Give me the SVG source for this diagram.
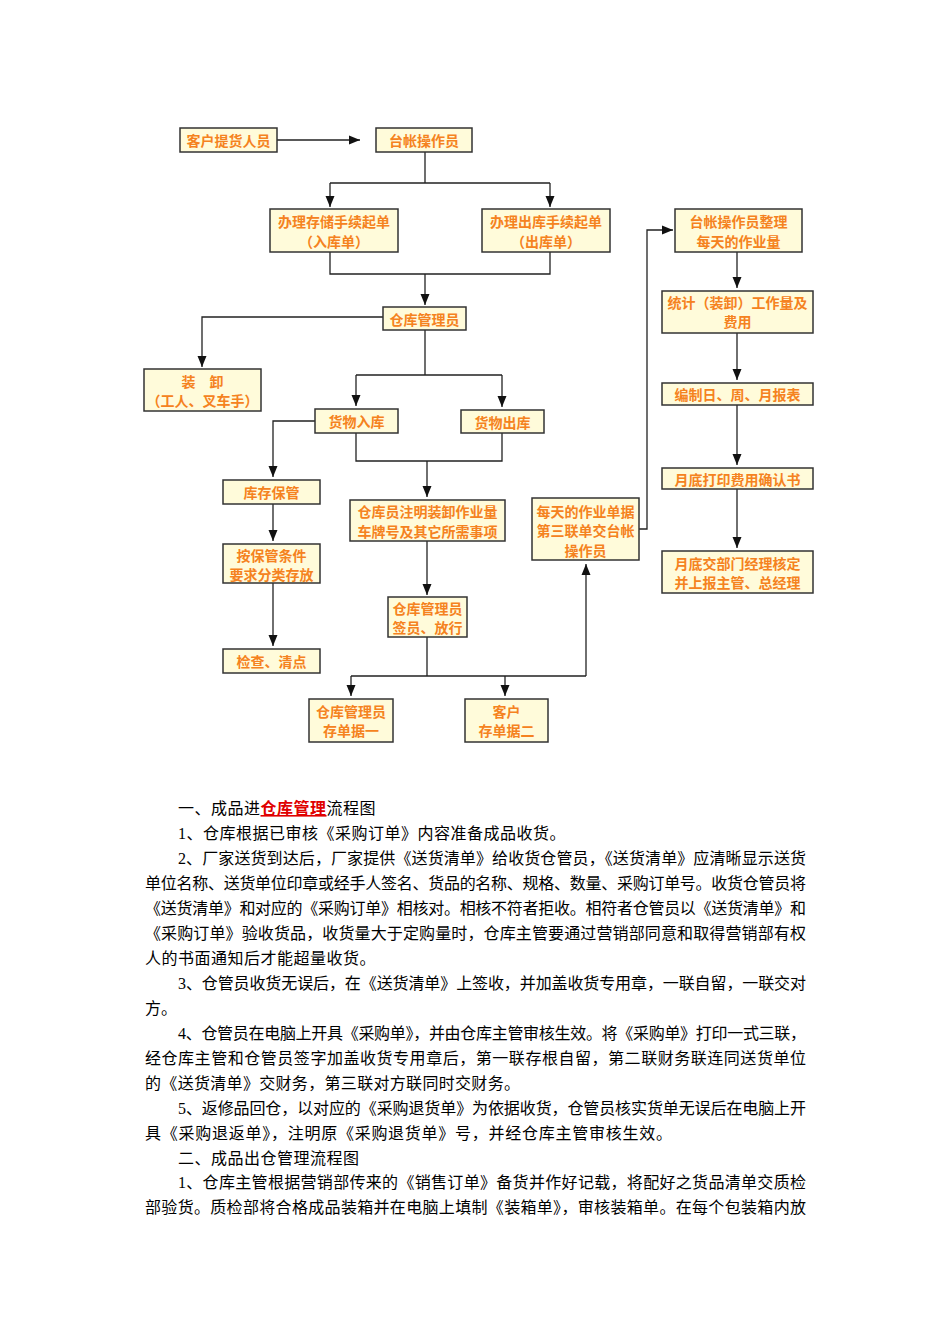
<svg xmlns="http://www.w3.org/2000/svg" width="950" height="1344" viewBox="0 0 950 1344">
<defs>
<style>
.bx{fill:#FFFBDA;stroke:#333;stroke-width:1.5}
.nt{font-family:"Noto Sans CJK SC","Noto Sans",sans-serif;font-size:14px;font-weight:bold;fill:#F58220;text-anchor:middle;dominant-baseline:central}
.ln{fill:none;stroke:#222;stroke-width:1.3}
.ar{fill:none;stroke:#222;stroke-width:1.3;marker-end:url(#ah)}
.bd{font-family:"Liberation Serif","Noto Sans CJK SC",serif;font-size:16px;fill:#000}
.ls{letter-spacing:0.5px}
</style>
<marker id="ah" markerUnits="userSpaceOnUse" markerWidth="12" markerHeight="12" viewBox="0 0 12 12" refX="11" refY="6" orient="auto">
<path d="M0,1.5 L11,6 L0,10.5 Z" fill="#111"/>
</marker>
</defs>
<rect width="950" height="1344" fill="#fff"/>

<g id="connectors">
<path class="ar" d="M277,140 H360"/>
<path class="ln" d="M425,152 V183 M330,183 H550"/>
<path class="ar" d="M330,183 V207"/>
<path class="ar" d="M550,183 V207"/>
<path class="ln" d="M330,252 V274 H550 V252"/>
<path class="ar" d="M425,274 V305"/>
<path class="ar" d="M383,317 H202 V367"/>
<path class="ln" d="M425,330 V375 M356,375 H502"/>
<path class="ar" d="M356,375 V406"/>
<path class="ar" d="M502,375 V407"/>
<path class="ar" d="M315,421 H273 V477"/>
<path class="ln" d="M356,433 V461 H502 V433"/>
<path class="ar" d="M427,461 V497"/>
<path class="ar" d="M273,504 V541"/>
<path class="ar" d="M273,583 V646"/>
<path class="ar" d="M427,541 V595"/>
<path class="ln" d="M427,637 V676 M351,676 H586"/>
<path class="ar" d="M351,676 V696"/>
<path class="ar" d="M505,676 V696"/>
<path class="ar" d="M586,676 V564"/>
<path class="ar" d="M639,529 H647 V230 H673"/>
<path class="ar" d="M737,252 V288"/>
<path class="ar" d="M737,333 V380"/>
<path class="ar" d="M737,405 V465"/>
<path class="ar" d="M737,489 V548"/>
</g>

<g id="n1"><rect class="bx" x="180" y="128" width="97" height="24"/><text class="nt" x="228.5" y="140">客户提货人员</text></g>
<g id="n2"><rect class="bx" x="376" y="128" width="96" height="24"/><text class="nt" x="424" y="140">台帐操作员</text></g>
<g id="n3"><rect class="bx" x="270" y="209" width="128" height="43"/><text class="nt" x="334" y="221">办理存储手续起单</text><text class="nt" x="334" y="241">（入库单）</text></g>
<g id="n4"><rect class="bx" x="482" y="209" width="128" height="43"/><text class="nt" x="546" y="221">办理出库手续起单</text><text class="nt" x="546" y="241">（出库单）</text></g>
<g id="n5"><rect class="bx" x="383" y="307" width="83" height="23"/><text class="nt" x="424.5" y="318.5">仓库管理员</text></g>
<g id="n6"><rect class="bx" x="144" y="369" width="117" height="42"/><text class="nt" x="202.5" y="381">装　卸</text><text class="nt" x="202.5" y="400">（工人、叉车手）</text></g>
<g id="n7"><rect class="bx" x="315" y="409" width="83" height="24"/><text class="nt" x="356.5" y="421">货物入库</text></g>
<g id="n8"><rect class="bx" x="461" y="410" width="83" height="23"/><text class="nt" x="502.5" y="421.5">货物出库</text></g>
<g id="n9"><rect class="bx" x="223" y="480" width="97" height="24"/><text class="nt" x="271.5" y="492">库存保管</text></g>
<g id="n10"><rect class="bx" x="223" y="544" width="97" height="39"/><text class="nt" x="271.5" y="554.5">按保管条件</text><text class="nt" x="271.5" y="573.5">要求分类存放</text></g>
<g id="n11"><rect class="bx" x="350" y="500" width="155" height="41"/><text class="nt" x="427.5" y="511">仓库员注明装卸作业量</text><text class="nt" x="427.5" y="530.5">车牌号及其它所需事项</text></g>
<g id="n12"><rect class="bx" x="388" y="597" width="79" height="40"/><text class="nt" x="427.5" y="607.5">仓库管理员</text><text class="nt" x="427.5" y="626.5">签员、放行</text></g>
<g id="n13"><rect class="bx" x="223" y="649" width="97" height="24"/><text class="nt" x="271.5" y="661">检查、清点</text></g>
<g id="n14"><rect class="bx" x="309" y="699" width="84" height="43"/><text class="nt" x="351" y="711">仓库管理员</text><text class="nt" x="351" y="730">存单据一</text></g>
<g id="n15"><rect class="bx" x="465" y="699" width="83" height="43"/><text class="nt" x="506.5" y="711">客户</text><text class="nt" x="506.5" y="730">存单据二</text></g>
<g id="n16"><rect class="bx" x="532" y="498" width="107" height="62"/><text class="nt" x="585.5" y="510.5">每天的作业单据</text><text class="nt" x="585.5" y="530">第三联单交台帐</text><text class="nt" x="585.5" y="549.5">操作员</text></g>
<g id="n17"><rect class="bx" x="675" y="209" width="127" height="43"/><text class="nt" x="738.5" y="221">台帐操作员整理</text><text class="nt" x="738.5" y="241">每天的作业量</text></g>
<g id="n18"><rect class="bx" x="662" y="291" width="151" height="42"/><text class="nt" x="737.5" y="302">统计（装卸）工作量及</text><text class="nt" x="737.5" y="321">费用</text></g>
<g id="n19"><rect class="bx" x="662" y="383" width="151" height="22"/><text class="nt" x="737.5" y="394">编制日、周、月报表</text></g>
<g id="n20"><rect class="bx" x="662" y="468" width="151" height="21"/><text class="nt" x="737.5" y="478.5">月底打印费用确认书</text></g>
<g id="n21"><rect class="bx" x="662" y="551" width="151" height="42"/><text class="nt" x="737.5" y="563">月底交部门经理核定</text><text class="nt" x="737.5" y="582">并上报主管、总经理</text></g>

<g id="body">
<text class="bd ls" x="178" y="814">一、成品进<tspan fill="#E00000" font-weight="bold" text-decoration="underline">仓库管理</tspan>流程图</text>
<text class="bd ls" x="178" y="839">1、仓库根据已审核《采购订单》内容准备成品收货。</text>
<text class="bd" x="178" y="864" textLength="628" lengthAdjust="spacing">2、厂家送货到达后，厂家提供《送货清单》给收货仓管员，《送货清单》应清晰显示送货</text>
<text class="bd" x="145" y="889" textLength="661" lengthAdjust="spacing">单位名称、送货单位印章或经手人签名、货品的名称、规格、数量、采购订单号。收货仓管员将</text>
<text class="bd" x="145" y="914" textLength="661" lengthAdjust="spacing">《送货清单》和对应的《采购订单》相核对。相核不符者拒收。相符者仓管员以《送货清单》和</text>
<text class="bd" x="145" y="939" textLength="661" lengthAdjust="spacing">《采购订单》验收货品，收货量大于定购量时，仓库主管要通过营销部同意和取得营销部有权</text>
<text class="bd ls" x="145" y="964">人的书面通知后才能超量收货。</text>
<text class="bd" x="178" y="989" textLength="628" lengthAdjust="spacing">3、仓管员收货无误后，在《送货清单》上签收，并加盖收货专用章，一联自留，一联交对</text>
<text class="bd" x="145" y="1014">方。</text>
<text class="bd" x="178" y="1039" textLength="628" lengthAdjust="spacing">4、仓管员在电脑上开具《采购单》，并由仓库主管审核生效。将《采购单》打印一式三联，</text>
<text class="bd" x="145" y="1064" textLength="661" lengthAdjust="spacing">经仓库主管和仓管员签字加盖收货专用章后，第一联存根自留，第二联财务联连同送货单位</text>
<text class="bd" x="145" y="1089" textLength="375" lengthAdjust="spacing">的《送货清单》交财务，第三联对方联同时交财务。</text>
<text class="bd" x="178" y="1114" textLength="628" lengthAdjust="spacing">5、返修品回仓，以对应的《采购退货单》为依据收货，仓管员核实货单无误后在电脑上开</text>
<text class="bd" x="145" y="1139" textLength="527" lengthAdjust="spacing">具《采购退返单》，注明原《采购退货单》号，并经仓库主管审核生效。</text>
<text class="bd ls" x="178" y="1164">二、成品出仓管理流程图</text>
<text class="bd" x="178" y="1188" textLength="628" lengthAdjust="spacing">1、仓库主管根据营销部传来的《销售订单》备货并作好记载，将配好之货品清单交质检</text>
<text class="bd" x="145" y="1213" textLength="661" lengthAdjust="spacing">部验货。质检部将合格成品装箱并在电脑上填制《装箱单》，审核装箱单。在每个包装箱内放</text>
</g>
</svg>
